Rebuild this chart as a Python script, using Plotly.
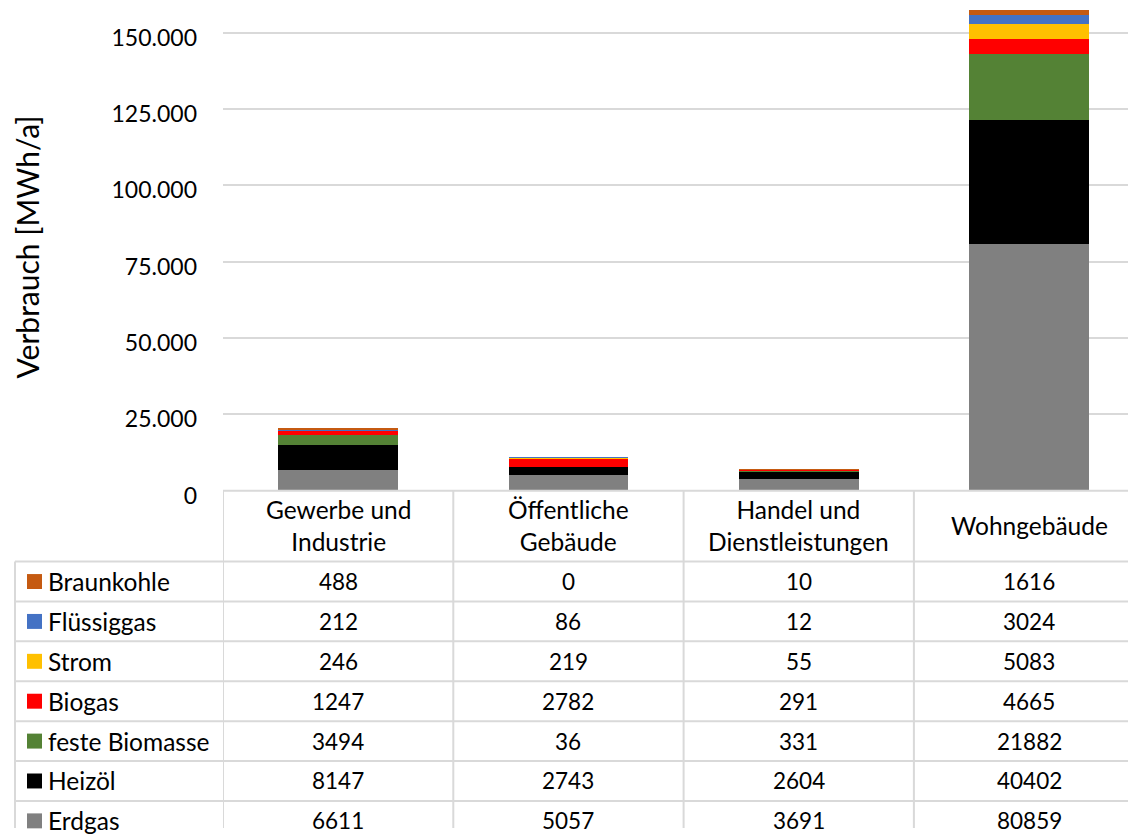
import plotly.graph_objects as go

categories = ["Gewerbe und<br>Industrie", "Öffentliche<br>Gebäude", "Handel und<br>Dienstleistungen", "Wohngebäude"]
series_names = ["Erdgas", "Heizöl", "feste Biomasse", "Biogas", "Strom", "Flüssiggas", "Braunkohle"]
erdgas = [6611, 5057, 3691, 80859]
heizoel = [8147, 2743, 2604, 40402]
feste_biomasse = [3494, 36, 331, 21882]
biogas = [1247, 2782, 291, 4665]
strom = [246, 219, 55, 5083]
fluessiggas = [212, 86, 12, 3024]
braunkohle = [488, 0, 10, 1616]
tick_values = [0, 25000, 50000, 75000, 100000, 125000, 150000]

values = [erdgas, heizoel, feste_biomasse, biogas, strom, fluessiggas, braunkohle]
colors = ["#808080", "#000000", "#548235", "#FF0000", "#FFC000", "#4472C4", "#C55A11"]

W, H = 1136, 838
OFF = 8            # page body margin compensation
S = H / (H + 2 * OFF)  # vertical capture scale compensation
FONT = "Lato"
GRID = "#d9d9d9"
TXT = 24.5
NUM = 22.5

def py(p):
    return 1 - (p / S - OFF) / H

def px(p):
    return (p - OFF) / W

# axis geometry (reference pixels)
zero_px = 491.7
px_per_25k = 76.5
plot_left = 223
col_w = 230.3
y_top_val = (zero_px - OFF * S) / px_per_25k * 25000
x_right = -0.5 + (W - (plot_left - OFF)) / col_w

xs = list(range(len(categories)))
fig = go.Figure()
for name, vals, col in zip(series_names, values, colors):
    fig.add_trace(go.Bar(x=xs, y=vals, name=name, marker=dict(color=col, line=dict(width=0)), showlegend=False))

shapes = []
annotations = []
# header top line
shapes.append(dict(type="line", xref="paper", yref="paper", x0=px(plot_left), x1=1, y0=py(492), y1=py(492), line=dict(color=GRID, width=2)))
# row lines
row_top = 563
row_h = 40
for k in range(8):
    y = row_top + k * row_h
    shapes.append(dict(type="line", xref="paper", yref="paper", x0=px(15), x1=1, y0=py(y), y1=py(y), line=dict(color=GRID, width=2)))
# vertical lines
shapes.append(dict(type="line", xref="paper", yref="paper", x0=px(15), x1=px(15), y0=py(563), y1=0, line=dict(color=GRID, width=2)))
for i in range(len(categories) + 1):
    shapes.append(dict(type="line", xref="x", yref="paper", x0=i - 0.5, x1=i - 0.5, y0=py(492), y1=0, line=dict(color=GRID, width=2)))

# header labels
for i, c in enumerate(categories):
    annotations.append(dict(x=i, xref="x", y=py(527), yref="paper", text=c, showarrow=False,
                            font=dict(family=FONT, size=TXT, color="#000"), xanchor="center", yanchor="middle"))

# table rows (top to bottom: reversed stack order)
for r, idx in enumerate(reversed(range(len(series_names)))):
    yc = row_top + r * row_h + row_h / 2
    shapes.append(dict(type="rect", xref="paper", yref="paper", x0=px(27), x1=px(42), y0=py(yc - 7.5), y1=py(yc + 7.5),
                       fillcolor=colors[idx], line=dict(width=0)))
    annotations.append(dict(x=px(46), xref="paper", y=py(yc), yref="paper", text=series_names[idx], showarrow=False,
                            font=dict(family=FONT, size=TXT, color="#000"), xanchor="left", yanchor="middle"))
    for i in range(len(categories)):
        annotations.append(dict(x=i, xref="x", y=py(yc), yref="paper", text=str(values[idx][i]), showarrow=False,
                                font=dict(family=FONT, size=NUM, color="#000"), xanchor="center", yanchor="middle"))

annotations.append(dict(x=px(27), xref="paper", y=py(248), yref="paper", text="Verbrauch [MWh/a]", textangle=-90,
                        showarrow=False, font=dict(family=FONT, size=30, color="#000"), xanchor="center", yanchor="middle"))

fig.update_layout(
    width=W, height=H, barmode="stack", bargap=0.48,
    margin=dict(l=0, r=0, t=0, b=0),
    paper_bgcolor="white", plot_bgcolor="white",
    separators=",.",
    shapes=shapes, annotations=annotations,
    xaxis=dict(domain=[px(plot_left), 1], range=[-0.5, x_right], showticklabels=False, showgrid=False, zeroline=False, showline=False),
    yaxis=dict(domain=[py(zero_px), 1], range=[0, y_top_val], tickvals=tick_values, tickformat=",d",
               showgrid=True, gridcolor=GRID, gridwidth=2, zeroline=False, showline=False, ticks="",
               ticklabelstandoff=plot_left - 198, ticklabelshift=5,
               tickfont=dict(family=FONT, size=23, color="#000")),
)
fig.write_html("out.html")
